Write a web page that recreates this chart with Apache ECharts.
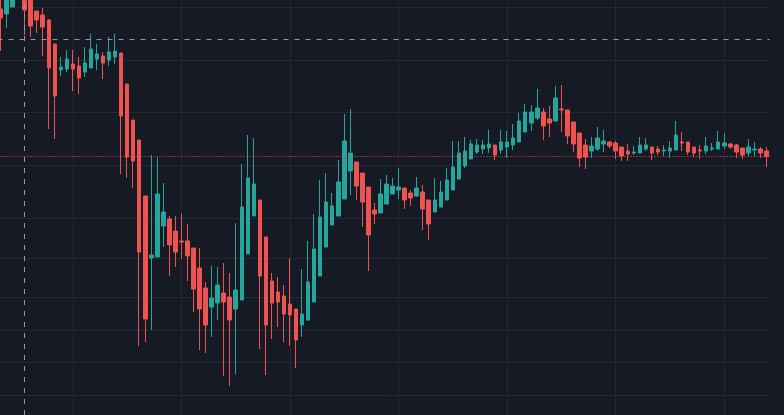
<!DOCTYPE html>
<html>
<head>
<meta charset="utf-8">
<script src="https://cdn.jsdelivr.net/npm/echarts@6/dist/echarts.min.js"></script>
<style>
html,body{margin:0;padding:0;background:#161A25;}
#chart{width:784px;height:415px;}
</style>
</head>
<body>
<div id="chart"></div>
<script>
// OHLC values (price units)
const opens = [9.91,9.86,9.93,10.06,10.06,10.02,9.89,9.85,9.80,9.56,
9.30,9.31,9.36,9.34,9.28,9.32,9.41,9.44,9.40,9.43,
9.47,9.16,8.80,8.60,8.04,7.42,7.43,7.74,7.81,7.69,
7.59,7.59,7.52,7.32,7.12,6.93,6.97,7.07,7.03,6.91,
7.00,7.46,7.84,8.00,7.63,7.19,7.08,7.04,6.96,6.91,
6.75,6.80,6.98,7.24,7.53,7.75,7.84,8.01,8.29,8.38,
8.27,8.13,7.90,7.87,7.96,8.06,8.10,8.12,8.07,8.04,
8.08,8.00,7.88,7.93,8.00,8.10,8.21,8.34,8.41,8.48,
8.51,8.52,8.55,8.50,8.53,8.55,8.58,8.68,8.77,8.82,
8.88,8.81,8.79,8.91,8.90,8.78,8.67,8.55,8.49,8.51,
8.56,8.58,8.57,8.53,8.49,8.47,8.47,8.51,8.53,8.51,
8.49,8.49,8.50,8.58,8.58,8.53,8.50,8.49,8.51,8.51,
8.54,8.56,8.55,8.52,8.47,8.50,8.51,8.49];
const closes = [9.82,10.04,10.05,10.15,9.90,9.74,9.80,9.73,9.32,9.04,
9.33,9.41,9.31,9.22,9.37,9.51,9.46,9.37,9.48,9.49,
8.84,8.43,8.39,7.48,6.81,7.45,8.06,7.88,7.55,7.48,
7.58,7.44,7.11,6.91,6.75,7.02,7.15,6.98,6.80,7.10,
7.93,8.22,8.16,7.24,6.75,6.97,6.98,6.86,6.85,6.60,
6.86,7.18,7.51,7.83,7.98,7.94,8.18,8.59,8.47,8.14,
7.98,7.65,7.86,8.06,8.16,8.14,8.13,8.00,8.02,8.12,
7.91,7.76,8.00,8.08,8.20,8.33,8.47,8.49,8.56,8.55,
8.55,8.56,8.45,8.58,8.58,8.62,8.79,8.88,8.88,8.92,
8.74,8.77,9.02,8.90,8.64,8.56,8.42,8.43,8.54,8.62,
8.59,8.54,8.49,8.44,8.46,8.48,8.55,8.55,8.47,8.48,
8.50,8.52,8.65,8.57,8.48,8.47,8.49,8.54,8.52,8.58,
8.57,8.53,8.48,8.45,8.53,8.51,8.47,8.435];
const lows = [9.49,9.72,9.93,10.03,9.65,9.63,9.67,9.44,8.71,8.61,
9.24,9.28,9.09,9.06,9.23,9.32,9.30,9.21,9.34,9.36,
8.26,8.22,8.12,6.54,6.58,6.70,7.43,7.53,7.24,7.33,
7.41,7.19,6.88,6.50,6.47,6.63,6.80,6.24,6.14,6.26,
7.00,7.46,7.84,6.51,6.25,6.61,6.73,6.58,6.54,6.32,
6.63,6.79,6.98,7.24,7.53,7.75,7.84,8.01,8.05,8.00,
7.73,7.29,7.76,7.87,7.96,8.06,8.01,7.91,7.94,8.03,
7.70,7.60,7.88,7.93,8.00,8.10,8.21,8.32,8.41,8.46,
8.46,8.47,8.40,8.46,8.42,8.50,8.58,8.68,8.69,8.80,
8.60,8.63,8.79,8.68,8.56,8.48,8.33,8.31,8.42,8.49,
8.48,8.52,8.41,8.39,8.39,8.45,8.47,8.49,8.40,8.45,
8.44,8.42,8.50,8.49,8.45,8.43,8.41,8.46,8.49,8.51,
8.51,8.51,8.42,8.41,8.44,8.44,8.42,8.33];
const highs = [10.03,10.08,10.10,10.20,10.10,10.05,9.89,9.92,9.81,9.56,
9.43,9.50,9.50,9.43,9.53,9.66,9.56,9.48,9.63,9.66,
9.47,9.16,8.80,8.60,8.04,8.45,8.43,8.17,7.84,7.84,
7.87,7.76,7.52,7.52,7.18,7.34,7.33,7.37,7.27,7.77,
8.36,8.65,8.62,8.00,7.63,7.27,7.23,7.15,7.42,6.91,
7.31,7.59,7.86,8.20,8.27,8.07,8.40,8.86,8.91,8.38,
8.27,8.13,7.97,8.21,8.25,8.22,8.32,8.12,8.10,8.23,
8.15,8.00,8.22,8.19,8.32,8.59,8.59,8.63,8.60,8.61,
8.60,8.70,8.55,8.70,8.69,8.76,8.87,8.96,8.95,9.11,
8.92,8.94,9.14,9.15,8.90,8.78,8.67,8.61,8.63,8.73,
8.70,8.59,8.59,8.53,8.56,8.54,8.63,8.62,8.53,8.54,
8.55,8.59,8.79,8.68,8.58,8.53,8.55,8.63,8.57,8.69,
8.67,8.57,8.56,8.52,8.61,8.58,8.53,8.53];

// chart furniture (price levels / bar indices)
const gridPriceLevels = [9.925,9.405,8.875,8.345,7.815,7.415,7.025,6.695,6.375,6.055];
const gridBarIndices = [12,30,48,66,84,102,120];
const crosshairBar = 4;
const crosshairPrice = 9.605;
const priceMin = 5.85, priceMax = 10.00;

const categories = opens.map((_, i) => 'Bar ' + (i + 1));
const ohlc = opens.map((o, i) => [o, closes[i], lows[i], highs[i]]);
const lastClose = closes[closes.length - 1];

const UP = '#26A69A', DOWN = '#EF5350';
const chart = echarts.init(document.getElementById('chart'), null, {renderer: 'canvas'});
chart.setOption({
  backgroundColor: '#161A25',
  animation: false,
  grid: {left: -2.5, right: 14.5, top: 0, bottom: 0, containLabel: false, outerBoundsMode: 'none'},
  xAxis: {type: 'category', data: categories, boundaryGap: true, show: false},
  yAxis: {type: 'value', min: priceMin, max: priceMax, show: false, scale: true},
  series: [
    {
      type: 'line',
      data: [],
      silent: true,
      markLine: {
        z: 1,
        silent: true,
        symbol: 'none',
        animation: false,
        label: {show: false},
        lineStyle: {color: '#242834', width: 1, type: 'solid'},
        data: gridPriceLevels.map(v => ({yAxis: v}))
          .concat(gridBarIndices.map(i => ({xAxis: i})))
      }
    },
    {
      type: 'candlestick',
      z: 2,
      barWidth: 4,
      clip: true,
      data: ohlc,
      itemStyle: {
        color: UP, color0: DOWN,
        borderColor: UP, borderColor0: DOWN,
        borderWidth: 1
      },
      markLine: {
        silent: true,
        symbol: 'none',
        animation: false,
        label: {show: false},
        data: [
          {yAxis: crosshairPrice, lineStyle: {color: '#9598A1', width: 1, type: [5, 6]}},
          {xAxis: crosshairBar, lineStyle: {color: '#9598A1', width: 1, type: [5, 6]}},
          {yAxis: lastClose, lineStyle: {color: DOWN, width: 1, type: [1, 2]}}
        ]
      }
    }
  ]
});
</script>
</body>
</html>
